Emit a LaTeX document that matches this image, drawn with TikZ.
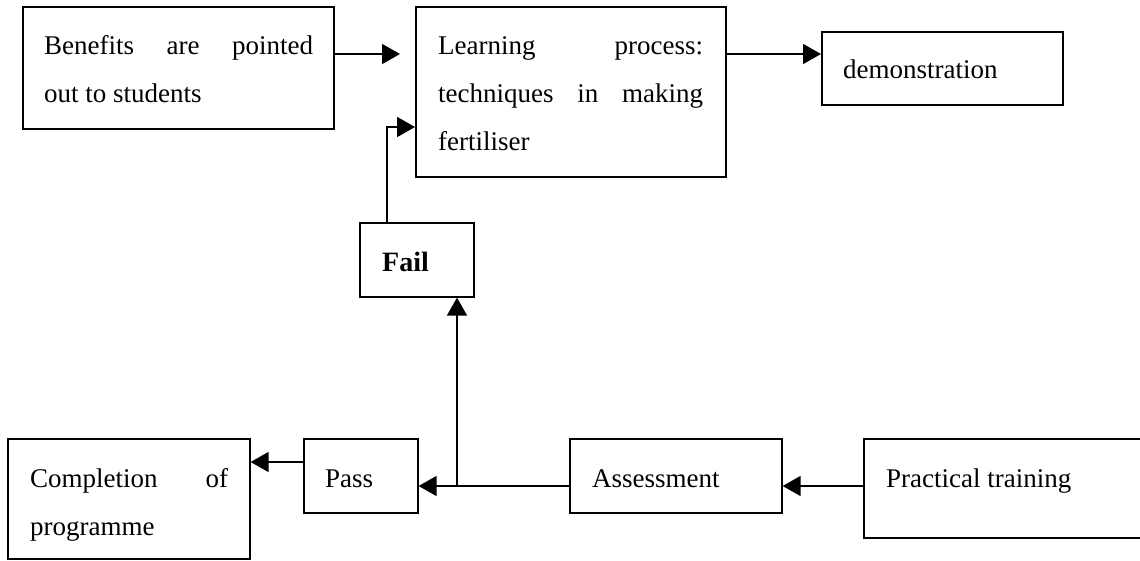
\documentclass[tikz,border=0pt]{standalone}
\usepackage{fontspec}
\setmainfont{Liberation Serif}
\usetikzlibrary{arrows.meta}
\begin{document}
\begin{tikzpicture}[x=1pt,y=-1pt,
  box/.style={draw, line width=1.6pt, anchor=north west, inner sep=0pt},
  txt/.style={anchor=base west, inner sep=0pt, font=\fontsize{27}{27}\selectfont},
  arr/.style={line width=1.6pt, -{Triangle[length=18pt,width=20pt]}}]
\useasboundingbox (0,0) rectangle (1140,560);
% boxes
\node[box, minimum width=311pt, minimum height=122pt] (ben) at (22,6) {};
\node[box, minimum width=310pt, minimum height=170pt] (learn) at (415,6) {};
\node[box, minimum width=241pt, minimum height=73pt] (demo) at (821,31) {};
\node[box, minimum width=114pt, minimum height=74pt] (fail) at (359,222) {};
\node[box, minimum width=242pt, minimum height=120pt] (comp) at (7,438) {};
\node[box, minimum width=114pt, minimum height=74pt] (pass) at (303,438) {};
\node[box, minimum width=212pt, minimum height=74pt] (assess) at (569,438) {};
\node[box, minimum width=290pt, minimum height=99pt] (prac) at (863,438) {};
% texts
\node[txt] (tben1) at (44,54) {\hbox to 269pt{Benefits\hfill are\hfill pointed}};
\node[txt] (tben2) at (44,102) {out to students};
\node[txt] (tlearn1) at (438,54) {\hbox to 265pt{Learning\hfill process:}};
\node[txt] (tlearn2) at (438,102) {\hbox to 265pt{techniques\hfill in\hfill making}};
\node[txt] (tlearn3) at (438,150) {fertiliser};
\node[txt] (tdemo) at (843,78) {demonstration};
\node[txt, font=\fontsize{28}{28}\selectfont\bfseries] (tfail) at (382,271) {Fail};
\node[txt] (tcomp1) at (30,487) {\hbox to 198pt{Completion\hfill of}};
\node[txt] (tcomp2) at (30,535) {programme};
\node[txt] (tpass) at (325,487) {Pass};
\node[txt] (tassess) at (592,487) {Assessment};
\node[txt] (tprac) at (886,487) {Practical training};
% connectors
\draw[arr, shorten >=15pt] (ben.north east |- 0,54) -- (learn.north west |- 0,54);
\draw[arr] (learn.north east |- 0,54) -- (demo.west |- 0,54);
\draw[arr] (fail.north -| 387,0) |- (learn.west |- 0,127);
\draw[arr] (prac.west |- 0,486) -- (assess.east |- 0,486);
\draw[arr] (assess.west |- 0,486) -- (pass.east |- 0,486);
\coordinate (j) at (457,486);
\draw[arr] (j) -- (fail.south -| j);
\draw[arr] (pass.west |- 0,462) -- (comp.east |- 0,462);
\end{tikzpicture}
\end{document}
